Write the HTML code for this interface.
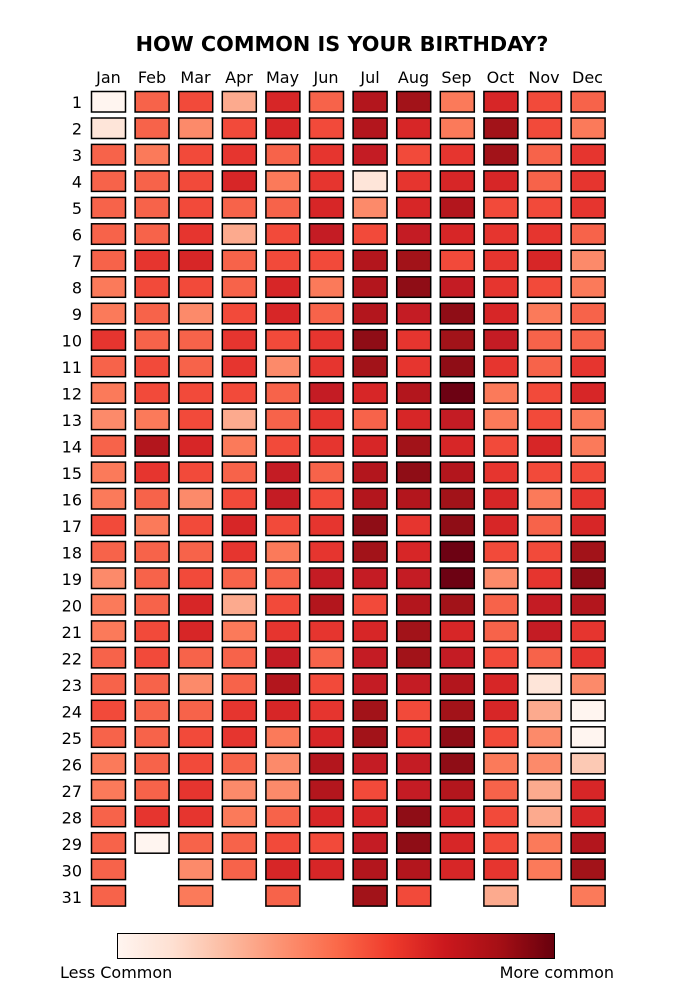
<!DOCTYPE html>
<html><head><meta charset="utf-8"><style>
html,body{margin:0;padding:0;background:#fff;}
svg{display:block;font-family:"DejaVu Sans","Liberation Sans",sans-serif;}
</style></head><body>
<svg id="s" width="676" height="1003" viewBox="0 0 676 1003" xmlns="http://www.w3.org/2000/svg">
<defs><linearGradient id="g" x1="0" x2="1" y1="0" y2="0">
<stop offset="0" stop-color="#fff5f0"/><stop offset="0.125" stop-color="#fee0d2"/><stop offset="0.25" stop-color="#fcbba1"/><stop offset="0.375" stop-color="#fc9272"/><stop offset="0.5" stop-color="#fb6a4a"/><stop offset="0.625" stop-color="#ef3b2c"/><stop offset="0.75" stop-color="#cb181d"/><stop offset="0.875" stop-color="#a50f15"/><stop offset="1" stop-color="#67000d"/>
</linearGradient></defs>
<text x="342" y="51" text-anchor="middle" font-size="20.8" font-weight="bold">HOW COMMON IS YOUR BIRTHDAY?</text>
<g font-size="16" text-anchor="middle">
<text x="108.5" y="83">Jan</text><text x="152" y="83">Feb</text><text x="195.5" y="83">Mar</text><text x="239" y="83">Apr</text><text x="282.5" y="83">May</text><text x="326" y="83">Jun</text><text x="370" y="83">Jul</text><text x="413.5" y="83">Aug</text><text x="456.5" y="83">Sep</text><text x="500.5" y="83">Oct</text><text x="544" y="83">Nov</text><text x="587.5" y="83">Dec</text>
</g>
<g font-size="16" text-anchor="end">
<text x="82" y="108">1</text><text x="82" y="134.5">2</text><text x="82" y="161">3</text><text x="82" y="187.5">4</text><text x="82" y="214">5</text><text x="82" y="240.5">6</text><text x="82" y="267">7</text><text x="82" y="293.5">8</text><text x="82" y="320">9</text><text x="82" y="346.5">10</text><text x="82" y="373">11</text><text x="82" y="399.5">12</text><text x="82" y="426">13</text><text x="82" y="452.5">14</text><text x="82" y="479">15</text><text x="82" y="505.5">16</text><text x="82" y="532">17</text><text x="82" y="558.5">18</text><text x="82" y="585">19</text><text x="82" y="611.5">20</text><text x="82" y="638">21</text><text x="82" y="664.5">22</text><text x="82" y="691">23</text><text x="82" y="717.5">24</text><text x="82" y="744">25</text><text x="82" y="770.5">26</text><text x="82" y="797">27</text><text x="82" y="823.5">28</text><text x="82" y="850">29</text><text x="82" y="876.5">30</text><text x="82" y="903">31</text>
</g>
<g id="cells" stroke="#000" stroke-width="1.5"></g>
<rect x="117.5" y="933.5" width="437" height="25" fill="url(#g)" stroke="#000" stroke-width="1"/>
<text x="60" y="978" font-size="16">Less Common</text>
<text x="614" y="978" font-size="16" text-anchor="end">More common</text>
</svg>
<script>
var C={a:"#fff5f0",b:"#fee5d9",c:"#fcaa8e",d:"#fc8a6a",e:"#fb7a5a",f:"#f7634a",g:"#f24a3a",h:"#e6352f",i:"#d72627",j:"#c41c24",k:"#b3161d",l:"#a21319",m:"#8f0d16",n:"#6d0213",x:"#fcc9b4"};
var R=["afgcifkleigf","bfdgigkielge","feghfhjghlfh","ffgiehbhiifh","ffgffidikggh","ffhcgjgjihhf","fhifggklghid","eggfiekmjhge","efdgifkjmief","hffhghmhljff","fgfhdhlhmhfh","egggfjiknegi","degcfhfijege","fkieghiligie","ehgfjfkmkhgg","efdgjgkklieh","gegighmhmifi","fffhehlinggl","dfgffjjjndhm","eficgkgklfjk","egiehhilifjh","fgffjfjljgfh","ffdfkgjjkibd","gffhihlglica","ffgheilhmgda","efgfdkjjmedx","efhddkgjkfci","fhhefiimigci","faffggjmigek","f-dfiikkihel","f-e-f-lg-c-e"];
var g=document.getElementById("cells"),ns="http://www.w3.org/2000/svg";
for(var r=0;r<31;r++){for(var c=0;c<12;c++){var k=R[r][c];if(!k||k=="-")continue;
var e=document.createElementNS(ns,"rect");e.setAttribute("x",(91.5+c*43.6).toFixed(1));e.setAttribute("y",(91.5+r*26.47).toFixed(1));
e.setAttribute("width","34");e.setAttribute("height","20.5");e.setAttribute("fill",C[k]);g.appendChild(e);}}
</script>
</body></html>
